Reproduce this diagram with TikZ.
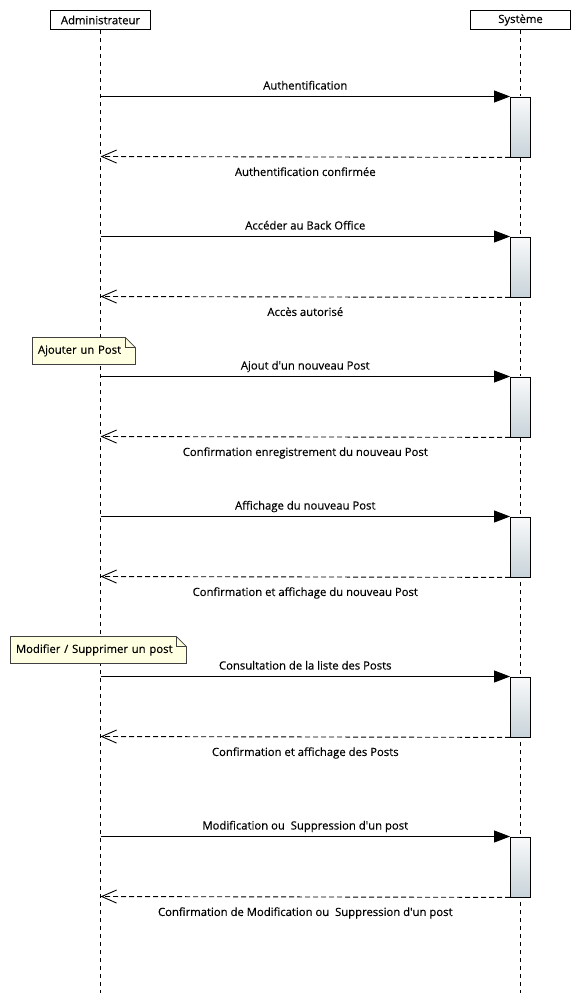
\documentclass[tikz,border=0pt]{standalone}
\usepackage{fontspec}
\setmainfont{Open Sans}[FakeBold=0.35]
\usetikzlibrary{%
  positioning
 ,arrows.meta
 ,calc
}
\definecolor{notefill}{RGB}{255,255,225}
\definecolor{acttop}{RGB}{249,250,251}
\definecolor{actbot}{RGB}{200,211,217}
\tikzstyle{seq}=[x=1pt,y=-1pt,line width=0.9pt,font=\fontsize{11.3}{13}\selectfont]
\tikzstyle{actor}=[rectangle,draw=black,fill=white,minimum width=100pt,minimum height=19pt,inner sep=0pt]
\tikzstyle{lifeline}=[dash pattern=on 4pt off 4pt]
\tikzstyle{act}=[rectangle,draw=black,top color=acttop,bottom color=actbot,minimum width=20pt,minimum height=60pt,inner sep=0pt,anchor=north]
\tikzstyle{call}=[-{Triangle[length=16pt,width=12pt]}]
\tikzstyle{reply}=[-{Straight Barb[length=15pt,width=13pt]},dash pattern=on 5pt off 3pt]
\tikzstyle{lbl}=[anchor=base,inner sep=0pt,yshift=7pt]
\tikzstyle{rlbl}=[anchor=base,inner sep=0pt,yshift=-19pt]
\tikzstyle{notebox}=[rectangle,fill=notefill,inner xsep=5pt,inner ysep=0pt,minimum height=26pt,align=left,anchor=north west]
\tikzstyle{noteline}=[draw=black!75,line width=0.8pt]

\begin{document}
\begin{tikzpicture}[seq]
      \useasboundingbox (0,0) rectangle (580,1007);
      \node[actor] (adm) at (100.5,20) {Administrateur};
      \node[actor] (sys) at (520.5,20) {Système};
      \coordinate (admend) at (100.5,993);
      \coordinate (sysend) at (520.5,993);
      \draw[lifeline] (adm) -- (admend);
      \draw[lifeline] (sys) -- (sysend);

      \node[act] (act1) at (520.5,96.5) {};
      \node[act] (act2) at (520.5,236.5) {};
      \node[act] (act3) at (520.5,376.5) {};
      \node[act] (act4) at (520.5,516.5) {};
      \node[act] (act5) at (520.5,676.5) {};
      \node[act] (act6) at (520.5,836.5) {};

      \coordinate (c1) at (100.5,96.5);  \coordinate (r1) at (100.5,156.5);
      \coordinate (c2) at (100.5,236.5); \coordinate (r2) at (100.5,296.5);
      \coordinate (c3) at (100.5,376.5); \coordinate (r3) at (100.5,436.5);
      \coordinate (c4) at (100.5,516.5); \coordinate (r4) at (100.5,576.5);
      \coordinate (c5) at (100.5,676.5); \coordinate (r5) at (100.5,736.5);
      \coordinate (c6) at (100.5,836.5); \coordinate (r6) at (100.5,896.5);

      \draw[call] (c1) -- node[lbl] {Authentification} (act1.north west);
      \draw[reply] (act1.south west) -- node[rlbl] {Authentification confirmée} (r1);
      \draw[call] (c2) -- node[lbl] {Accéder au Back Office} (act2.north west);
      \draw[reply] (act2.south west) -- node[rlbl] {Accès autorisé} (r2);
      \draw[call] (c3) -- node[lbl] {Ajout d\textquotesingle un nouveau Post} (act3.north west);
      \draw[reply] (act3.south west) -- node[rlbl] {Confirmation enregistrement du nouveau Post} (r3);
      \draw[call] (c4) -- node[lbl] {Affichage du nouveau Post} (act4.north west);
      \draw[reply] (act4.south west) -- node[rlbl] {Confirmation et affichage du nouveau Post} (r4);
      \draw[call] (c5) -- node[lbl] {Consultation de la liste des Posts} (act5.north west);
      \draw[reply] (act5.south west) -- node[rlbl] {Confirmation et affichage des Posts} (r5);
      \draw[call] (c6) -- node[lbl] {Modification ou\ \ Suppression d\textquotesingle un post} (act6.north west);
      \draw[reply] (act6.south west) -- node[rlbl] {Confirmation de Modification ou\ \ Suppression d\textquotesingle un post} (r6);

      \node[notebox,text width=92pt] (n1) at (32.5,337.5) {Ajouter un Post};
      \fill[white] ([xshift=-10pt]n1.north east) -- (n1.north east) -- ([yshift=-10pt]n1.north east) -- cycle;
      \draw[noteline] (n1.south west) -- (n1.north west) -- ([xshift=-10pt]n1.north east)
        -- ([yshift=-10pt]n1.north east) -- (n1.south east) -- cycle;
      \draw[noteline] ([xshift=-10pt]n1.north east) -- ([xshift=-10pt,yshift=-10pt]n1.north east)
        -- ([yshift=-10pt]n1.north east);

      \node[notebox,text width=165pt] (n2) at (10.5,636.5) {Modifier / Supprimer un post};
      \fill[white] ([xshift=-10pt]n2.north east) -- (n2.north east) -- ([yshift=-10pt]n2.north east) -- cycle;
      \draw[noteline] (n2.south west) -- (n2.north west) -- ([xshift=-10pt]n2.north east)
        -- ([yshift=-10pt]n2.north east) -- (n2.south east) -- cycle;
      \draw[noteline] ([xshift=-10pt]n2.north east) -- ([xshift=-10pt,yshift=-10pt]n2.north east)
        -- ([yshift=-10pt]n2.north east);
    \end{tikzpicture}
\end{document}
